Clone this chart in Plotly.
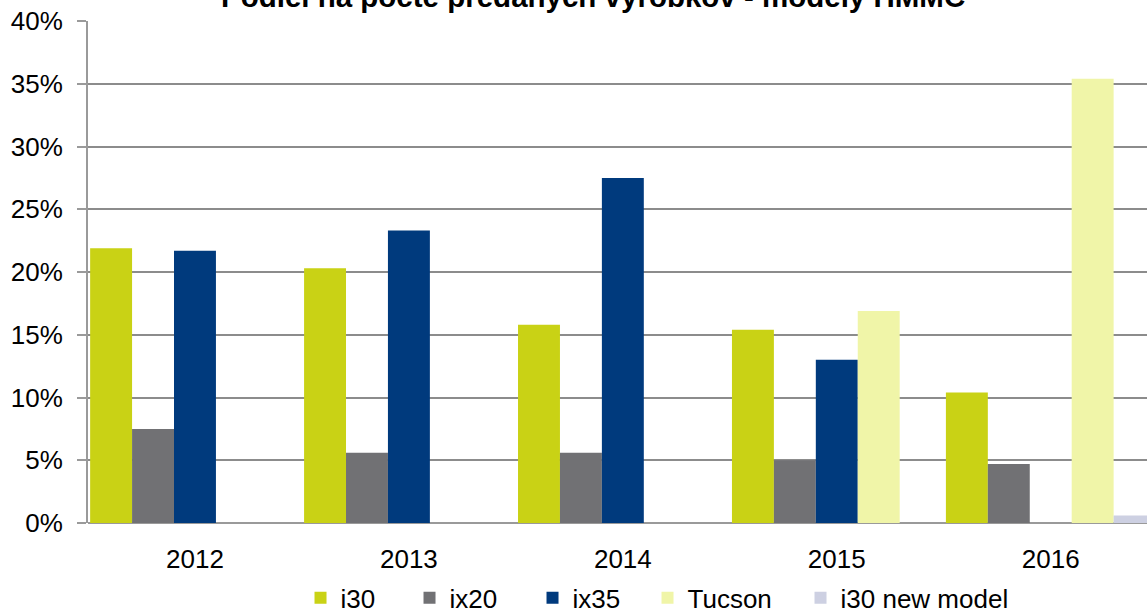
import plotly.graph_objects as go

years = ["2012", "2013", "2014", "2015", "2016"]
i30 = [21.9, 20.3, 15.8, 15.4, 10.4]
ix20 = [7.5, 5.6, 5.6, 5.0, 4.7]
ix35 = [21.7, 23.3, 27.5, 13.0, None]
tucson = [None, None, None, 16.9, 35.4]
i30_new = [None, None, None, None, 0.6]

series = [
    ("i30", i30, "#c9d215", 64),
    ("ix20", ix20, "#717174", 78),
    ("ix35", ix35, "#003a7d", 70),
    ("Tucson", tucson, "#f0f5a8", 108),
    ("i30 new model", i30_new, "#cdd0e2", 180),
]

FONT = "Liberation Sans, Arial, sans-serif"

fig = go.Figure()
for name, vals, col, lw in series:
    fig.add_trace(go.Bar(
        x=years, y=[v / 100 if v is not None else None for v in vals],
        name=name, marker=dict(color=col, line=dict(width=0)),
        legendwidth=lw,
    ))

fig.update_layout(
    width=1147, height=612,
    margin=dict(l=88, r=0, t=21, b=89, autoexpand=False),
    paper_bgcolor="white", plot_bgcolor="white",
    barmode="group", bargap=0.02, bargroupgap=0,
    font=dict(family=FONT, size=26, color="#000000"),
    showlegend=True,
    legend=dict(orientation="h", xref="container", yref="container",
                x=0.262, xanchor="left", y=0.023, yanchor="middle",
                font=dict(size=26), itemwidth=30, traceorder="normal",
                entrywidthmode="pixels"),
    xaxis=dict(range=[-0.5, 4.45], showgrid=False, showline=False, ticks="",
               tickfont=dict(size=26), ticklabelstandoff=18, automargin=False),
    yaxis=dict(range=[0, 0.4], dtick=0.05, tickformat=".0%", showgrid=True,
               gridcolor="#8c8c8c", gridwidth=2, zeroline=True, zerolinecolor="#9a9a9a",
               zerolinewidth=2, showline=True, linecolor="#9a9a9a", linewidth=2,
               ticks="outside", ticklen=9, tickcolor="#9a9a9a", tickwidth=2,
               tickfont=dict(size=26), ticklabelstandoff=9, automargin=False,
               ticklabeloverflow="allow"),
)
fig.add_annotation(text="<b>Podiel na počte predaných výrobkov - modely HMMC</b>",
                   xref="paper", yref="paper", x=0.477, y=1, xanchor="center",
                   yanchor="middle", yshift=25, showarrow=False,
                   font=dict(family=FONT, size=29.5, color="#000000"))

# remove the browser's default 8px body margin so the figure fills the window
fig.write_html("out.html", config={"displayModeBar": False},
               post_script="document.body.style.margin='0';")
